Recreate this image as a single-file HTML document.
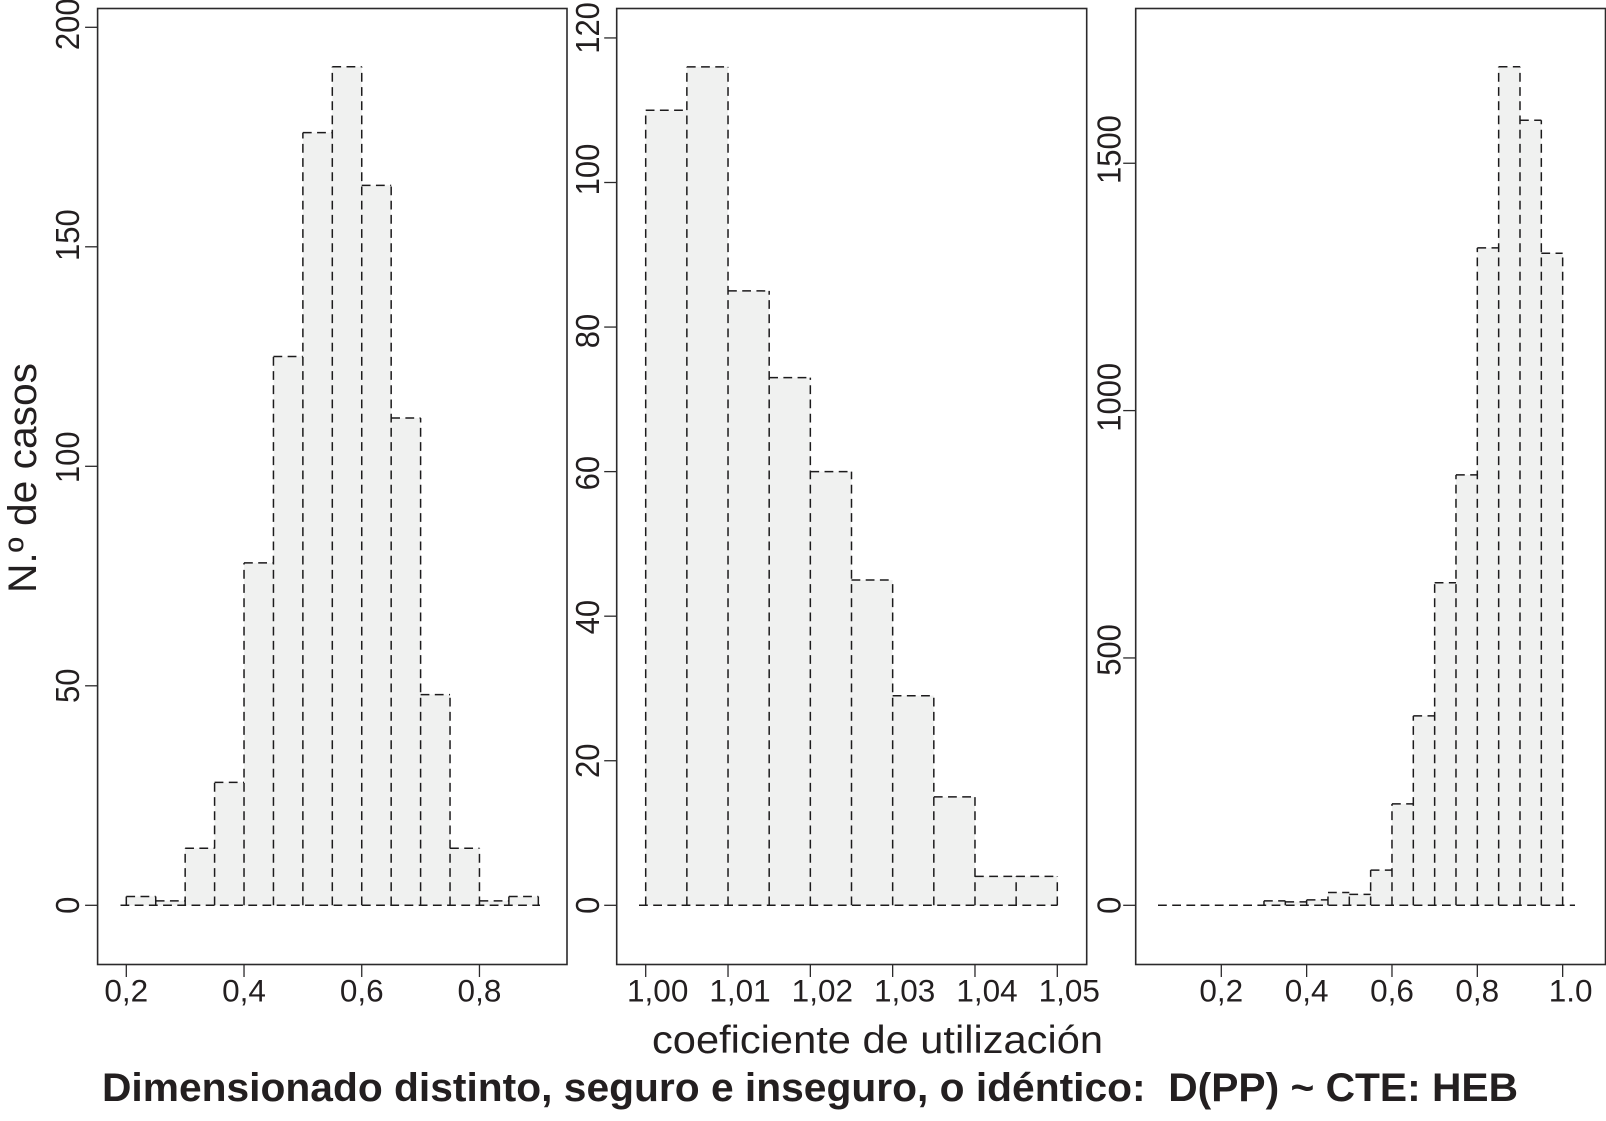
<!DOCTYPE html>
<html lang="es">
<head>
<meta charset="utf-8">
<title>Dimensionado distinto, seguro e inseguro, o idéntico</title>
<style>
html,body{margin:0;padding:0;background:#fff;width:1606px;height:1121px;overflow:hidden}
svg{display:block}
text{font-family:"Liberation Sans",sans-serif;fill:#231f20;white-space:pre}
</style>
</head>
<body>
<svg id="chart" xmlns="http://www.w3.org/2000/svg" width="1606" height="1121" viewBox="0 0 1606 1121">
<rect x="0" y="0" width="1606" height="1121" fill="#fff"></rect>
<text transform="translate(36,593) rotate(-90)" font-size="39.5" textLength="230" lengthAdjust="spacingAndGlyphs">N.º de casos</text>
<text x="652" y="1053" font-size="38.5" textLength="451" lengthAdjust="spacingAndGlyphs">coeficiente de utilización</text>
<text x="102" y="1101" font-size="40" font-weight="bold" textLength="1416" lengthAdjust="spacingAndGlyphs">Dimensionado distinto, seguro e inseguro, o idéntico:  D(PP) ~ CTE: HEB</text>
</svg>
<script>
// Panel 1 data
const p1BinStart = 0.20;
const p1BinWidth = 0.05;
const p1Counts = [2, 1, 13, 28, 78, 125, 176, 191, 164, 111, 48, 13, 1, 2];
const p1XTicks = [0.2, 0.4, 0.6, 0.8];
const p1XLabels = ["0,2", "0,4", "0,6", "0,8"];
const p1YTicks = [0, 50, 100, 150, 200];
const p1YLabels = ["0", "50", "100", "150", "200"];

// Panel 2 data
const p2BinStart = 1.00;
const p2BinWidth = 0.005;
const p2Counts = [110, 116, 85, 73, 60, 45, 29, 15, 4, 4];
const p2XTicks = [1.00, 1.01, 1.02, 1.03, 1.04, 1.05];
const p2XLabels = ["1,00", "1,01", "1,02", "1,03", "1,04", "1,05"];
const p2YTicks = [0, 20, 40, 60, 80, 100, 120];
const p2YLabels = ["0", "20", "40", "60", "80", "100", "120"];

// Panel 3 data
const p3BinStart = 0.30;
const p3BinWidth = 0.05;
const p3Counts = [9, 7, 11, 26, 22, 71, 205, 383, 652, 870, 1329, 1695, 1587, 1318];
const p3XTicks = [0.2, 0.4, 0.6, 0.8, 1.0];
const p3XLabels = ["0,2", "0,4", "0,6", "0,8", "1.0"];
const p3YTicks = [0, 500, 1000, 1500];
const p3YLabels = ["0", "500", "1000", "1500"];

const NS = 'http://www.w3.org/2000/svg';
const svg = document.getElementById('chart');
const INK = '#2b2a2b';
const BOX_TOP = 8.5;
const BOX_BOTTOM = 964.5;
const Y_ZERO = 905.3;
const DASH = '8.8 5.4';

function make(tag, parent) {
  const el = document.createElementNS(NS, tag);
  parent.appendChild(el);
  return el;
}
function setAll(el, attrs) {
  for (const k in attrs) el.setAttribute(k, attrs[k]);
}

function drawPanel(cfg) {
  const xs = function (v) { return cfg.xRef + (v - cfg.xRefValue) * cfg.xPerUnit; };
  const ys = function (v) { return Y_ZERO - v * cfg.yPerUnit; };
  const edge = function (i) { return xs(cfg.binStart + i * cfg.binWidth); };

  const g = make('g', svg);
  
  

  // bar fills
  cfg.counts.forEach(function (c, i) {
    const fill = make('rect', g);
    
    
    setAll(fill, {x: edge(i), y: ys(c), width: edge(i + 1) - edge(i), height: ys(0) - ys(c), fill: '#f0f1f0'});
  });

  // bar tops
  cfg.counts.forEach(function (c, i) {
    const top = make('line', g);
    
    
    setAll(top, {
      x1: edge(i), x2: edge(i + 1), y1: ys(c), y2: ys(c),
      stroke: '#1c1b1c', 'stroke-width': 1.5, 'stroke-dasharray': DASH
    });
  });

  // shared bar edges, each drawn once from the baseline up to the taller neighbour
  for (let i = 0; i <= cfg.counts.length; i++) {
    const leftCount = i > 0 ? cfg.counts[i - 1] : 0;
    const rightCount = i < cfg.counts.length ? cfg.counts[i] : 0;
    const side = make('line', g);
    
    
    setAll(side, {
      x1: edge(i), x2: edge(i), y1: ys(0), y2: ys(Math.max(leftCount, rightCount)),
      stroke: '#1c1b1c', 'stroke-width': 1.5, 'stroke-dasharray': DASH
    });
  }

  // baseline
  const base = make('line', g);
  
  
  setAll(base, {
    x1: cfg.baseFrom, x2: cfg.baseTo, y1: ys(0), y2: ys(0),
    stroke: '#1c1b1c', 'stroke-width': 1.5, 'stroke-dasharray': DASH
  });

  // frame
  const frame = make('rect', g);
  
  
  setAll(frame, {
    x: cfg.left, y: BOX_TOP, width: cfg.right - cfg.left, height: BOX_BOTTOM - BOX_TOP,
    fill: 'none', stroke: INK, 'stroke-width': 1.6
  });

  // x axis
  cfg.xTicks.forEach(function (t, i) {
    const px = xs(t);
    const tick = make('line', g);
    
    
    setAll(tick, {x1: px, x2: px, y1: BOX_BOTTOM, y2: BOX_BOTTOM + 12.5, stroke: INK, 'stroke-width': 1.3});
    const label = make('text', g);
    
    
    setAll(label, {x: px + cfg.xLabelShift(i), y: 1001.5, 'font-size': 31.5, 'text-anchor': 'middle'});
    label.textContent = cfg.xLabels[i];
  });

  // y axis
  cfg.yTicks.forEach(function (t, i) {
    const py = ys(t);
    const tick = make('line', g);
    
    
    setAll(tick, {x1: cfg.left - 12.5, x2: cfg.left, y1: py, y2: py, stroke: INK, 'stroke-width': 1.3});
    const label = make('text', g);
    
    
    setAll(label, {
      transform: 'translate(' + (cfg.left - cfg.yLabelGap) + ',' + (py + cfg.yLabelShift(i)) + ') rotate(-90) scale(1,1.08)',
      'font-size': 31, 'text-anchor': 'middle'
    });
    label.textContent = cfg.yLabels[i];
  });
}

drawPanel({
  name: 'histogram-panel-left', left: 97.6, right: 567,
  xRef: 126.3, xRefValue: 0.2, xPerUnit: 588.6, yPerUnit: 4.39,
  baseFrom: 120.5, baseTo: 540, yLabelGap: 18.6,
  binStart: p1BinStart, binWidth: p1BinWidth, counts: p1Counts,
  xTicks: p1XTicks, xLabels: p1XLabels, yTicks: p1YTicks, yLabels: p1YLabels,
  xLabelShift: function () { return 0; },
  yLabelShift: function (i) { return [0, 0, -9, -11.7, -3][i]; }
});
drawPanel({
  name: 'histogram-panel-middle', left: 616.7, right: 1086.7,
  xRef: 645.7, xRefValue: 1.0, xPerUnit: 8232, yPerUnit: 7.228,
  baseFrom: 639, baseTo: 1057.5, yLabelGap: 17.6,
  binStart: p2BinStart, binWidth: p2BinWidth, counts: p2Counts,
  xTicks: p2XTicks, xLabels: p2XLabels, yTicks: p2YTicks, yLabels: p2YLabels,
  xLabelShift: function () { return 12; },
  yLabelShift: function (i) { return [0, 0, 1, 1.5, 4, -13, -10][i]; }
});
drawPanel({
  name: 'histogram-panel-right', left: 1135.7, right: 1605.5,
  xRef: 1221.3, xRefValue: 0.2, xPerUnit: 426.7, yPerUnit: 0.4947,
  baseFrom: 1158, baseTo: 1575, yLabelGap: 15,
  binStart: p3BinStart, binWidth: p3BinWidth, counts: p3Counts,
  xTicks: p3XTicks, xLabels: p3XLabels, yTicks: p3YTicks, yLabels: p3YLabels,
  xLabelShift: function (i) { return i === 4 ? 8 : 0; },
  yLabelShift: function (i) { return [0, -8, -13.3, -13.7][i]; }
});
</script>
</body>
</html>
